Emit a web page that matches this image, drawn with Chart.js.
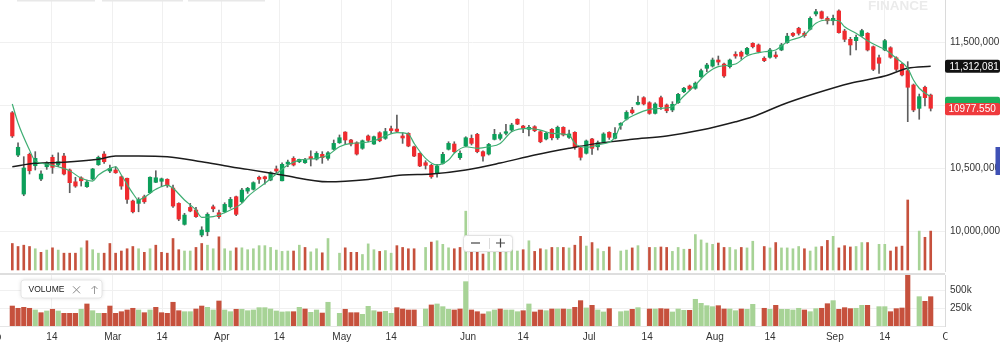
<!DOCTYPE html>
<html><head><meta charset="utf-8">
<script src="https://cdn.jsdelivr.net/npm/chart.js@4.4.1/dist/chart.umd.min.js"></script>
<style>
html,body{margin:0;padding:0;background:#fff;overflow:hidden;}
#wrap{position:relative;width:1000px;height:351px;background:#fff;}
canvas{position:absolute;left:0;}
#c1{top:0;width:1000px;height:272px;}
#c2{top:272px;width:1000px;height:79px;}
</style></head><body>
<div id="wrap"><canvas id="c1" width="1000" height="272"></canvas><canvas id="c2" width="1000" height="79"></canvas></div>
<script>
// ---------- DATA (trading-day index 0..160) ----------
const opens = [10942000,10605000,10294000,10611000,10520000,10414000,10512000,10587000,10526000,10597000,
10486000,10392000,10424000,10353000,10414000,10528000,10613000,10478000,10486000,10432000,
10420000,10239000,10220000,10273000,10305000,10388000,10396000,10412000,10342000,10220000,
10053000,10188000,10167000,9968000,9994000,10193000,10145000,10153000,10193000,10273000,
10233000,10318000,10332000,10428000,10432000,10406000,10494000,10400000,10533000,10579000,
10552000,10544000,10592000,10573000,10611000,10579000,10651000,10703000,10788000,10725000,
10703000,10659000,10757000,10693000,10783000,10738000,10815000,10812000,10757000,10778000,
10671000,10619000,10544000,10523000,10464000,10539000,10651000,10693000,10584000,10677000,
10738000,10770000,10632000,10613000,10730000,10738000,10778000,10804000,10890000,10836000,
10810000,10831000,10791000,10733000,10810000,10743000,10826000,10746000,10786000,10663000,
10619000,10733000,10671000,10711000,10786000,10738000,10842000,10892000,10964000,11009000,
11062000,11022000,10937000,11062000,11004000,10964000,11022000,11110000,11155000,11137000,
11229000,11296000,11314000,11362000,11330000,11309000,11408000,11424000,11410000,11495000,
11482000,11376000,11384000,11402000,11442000,11500000,11575000,11615000,11575000,11607000,
11729000,11747000,11694000,11675000,11753000,11593000,11527000,11516000,11556000,11575000,
11468000,11380000,11442000,11460000,11380000,11328000,11277000,11163000,10977000,11145000,
11083000];
const highs = [10952000,10703000,10592000,10621000,10632000,10480000,10552000,10605000,10623000,10619000,
10494000,10428000,10432000,10406000,10499000,10597000,10632000,10526000,10512000,10438000,
10422000,10247000,10265000,10286000,10432000,10480000,10422000,10416000,10366000,10225000,
10141000,10220000,10188000,10034000,10145000,10207000,10167000,10225000,10268000,10279000,
10340000,10348000,10392000,10438000,10438000,10472000,10518000,10544000,10565000,10592000,
10573000,10579000,10639000,10632000,10632000,10632000,10725000,10765000,10791000,10730000,
10711000,10725000,10765000,10757000,10791000,10818000,10836000,10924000,10783000,10783000,
10677000,10623000,10560000,10531000,10531000,10627000,10711000,10711000,10639000,10751000,
10765000,10778000,10639000,10698000,10810000,10783000,10850000,10858000,10894000,10842000,
10842000,10839000,10799000,10786000,10815000,10836000,10831000,10804000,10791000,10677000,
10725000,10738000,10717000,10783000,10791000,10823000,10863000,10958000,10985000,11075000,
11070000,11030000,11022000,11075000,11012000,11030000,11097000,11145000,11163000,11187000,
11290000,11336000,11378000,11394000,11338000,11370000,11428000,11434000,11463000,11500000,
11490000,11388000,11455000,11428000,11495000,11575000,11580000,11623000,11588000,11707000,
11766000,11753000,11707000,11721000,11761000,11607000,11543000,11561000,11607000,11580000,
11474000,11402000,11527000,11468000,11388000,11336000,11349000,11171000,11091000,11155000,
11091000];
const lows = [10745000,10592000,10281000,10454000,10486000,10400000,10491000,10459000,10512000,10446000,
10305000,10348000,10358000,10348000,10406000,10523000,10539000,10464000,10459000,10332000,
10220000,10145000,10153000,10220000,10300000,10385000,10353000,10348000,10188000,10082000,
10047000,10153000,10109000,9954000,9962000,10153000,10101000,10145000,10181000,10122000,
10225000,10300000,10326000,10380000,10374000,10400000,10464000,10398000,10512000,10518000,
10544000,10539000,10518000,10565000,10539000,10565000,10645000,10698000,10693000,10677000,
10605000,10651000,10711000,10690000,10711000,10730000,10778000,10783000,10698000,10671000,
10592000,10512000,10494000,10420000,10428000,10533000,10645000,10623000,10571000,10671000,
10685000,10623000,10557000,10605000,10725000,10725000,10765000,10791000,10847000,10783000,
10757000,10791000,10703000,10725000,10725000,10730000,10757000,10738000,10651000,10565000,
10613000,10611000,10645000,10703000,10730000,10733000,10810000,10884000,10932000,11004000,
11004000,10930000,10932000,10969000,10942000,10950000,11017000,11102000,11118000,11129000,
11224000,11269000,11306000,11322000,11224000,11298000,11376000,11368000,11402000,11458000,
11420000,11349000,11376000,11376000,11436000,11495000,11548000,11561000,11543000,11601000,
11713000,11689000,11649000,11641000,11575000,11508000,11402000,11442000,11548000,11434000,
11277000,11256000,11436000,11376000,11277000,11235000,10871000,10950000,10890000,10996000,
10956000];
const closes = [10757000,10667000,10502000,10480000,10579000,10454000,10544000,10507000,10552000,10454000,
10385000,10358000,10400000,10390000,10494000,10587000,10552000,10499000,10464000,10358000,
10252000,10153000,10252000,10233000,10428000,10424000,10416000,10361000,10199000,10095000,
10127000,10159000,10114000,10008000,10133000,10177000,10114000,10212000,10252000,10133000,
10326000,10340000,10385000,10412000,10416000,10464000,10478000,10531000,10549000,10526000,
10571000,10566000,10576000,10619000,10584000,10623000,10698000,10743000,10725000,10693000,
10613000,10719000,10722000,10751000,10719000,10792000,10800000,10794000,10741000,10677000,
10597000,10518000,10523000,10432000,10518000,10611000,10698000,10632000,10619000,10743000,
10698000,10632000,10597000,10690000,10770000,10768000,10791000,10844000,10852000,10818000,
10826000,10799000,10711000,10778000,10743000,10826000,10765000,10773000,10667000,10587000,
10717000,10659000,10703000,10773000,10746000,10778000,10858000,10945000,10942000,11025000,
11012000,10937000,11012000,10990000,10958000,11009000,11089000,11137000,11131000,11177000,
11277000,11322000,11362000,11346000,11235000,11362000,11394000,11392000,11455000,11468000,
11428000,11357000,11442000,11388000,11482000,11552000,11558000,11575000,11556000,11694000,
11747000,11694000,11675000,11694000,11580000,11527000,11482000,11543000,11596000,11442000,
11288000,11336000,11516000,11384000,11288000,11243000,11145000,10964000,11070000,11062000,
10977550];
const volumes = [282000,250000,264000,250000,226000,188000,212000,236000,212000,179000,
179000,179000,236000,311000,216000,179000,179000,282000,179000,202000,
226000,250000,226000,188000,226000,264000,188000,179000,335000,216000,
202000,202000,240000,282000,264000,226000,353000,226000,202000,236000,
236000,216000,226000,259000,259000,240000,212000,198000,202000,202000,
264000,240000,193000,226000,183000,335000,null,179000,236000,188000,
188000,165000,278000,216000,198000,207000,179000,259000,240000,226000,
226000,null,240000,297000,311000,273000,236000,226000,240000,626000,
226000,202000,170000,202000,226000,240000,226000,226000,202000,216000,
311000,198000,226000,216000,240000,240000,240000,235000,264000,358000,
255000,292000,226000,198000,245000,null,202000,212000,235000,259000,
null,240000,240000,245000,240000,198000,240000,221000,221000,377000,
320000,287000,273000,287000,240000,240000,216000,240000,235000,306000,
null,250000,235000,292000,235000,235000,226000,250000,226000,202000,
245000,250000,315000,358000,235000,259000,245000,250000,292000,292000,
null,273000,273000,202000,245000,254000,745000,null,414000,348000,
414000];
// short moving average (green), read at selected days
const maShortDay = [0,1,3,4,6,8,10,12,14,15,17,18,19,21,22,23,25,27,28,30,32,33,35,36,38,40,41,44,46,48,50,53,55,57,59,61,63,65,67,69,70,72,74,76,77,79,81,83,85,87,90,92,94,97,98,100,102,105,106,109,111,113,115,117,119,121,123,126,128,131,133,135,138,140,142,144,145,147,149,151,152,154,156,157,158,160];
const maShortVal = [11012000,10860000,10645000,10557000,10533000,10512000,10480000,10420000,10398000,10446000,10499000,10512000,10446000,10300000,10247000,10268000,10332000,10366000,10340000,10247000,10167000,10109000,10114000,10127000,10167000,10220000,10273000,10380000,10454000,10526000,10565000,10579000,10605000,10671000,10698000,10703000,10719000,10757000,10783000,10773000,10698000,10579000,10526000,10565000,10619000,10671000,10659000,10671000,10698000,10791000,10818000,10804000,10778000,10765000,10698000,10667000,10685000,10746000,10844000,10937000,10969000,10977000,10990000,11075000,11163000,11256000,11309000,11330000,11394000,11428000,11442000,11508000,11561000,11655000,11681000,11675000,11627000,11575000,11516000,11468000,11447000,11376000,11296000,11203000,11137000,11070000];
// long moving average (black)
const maLongDay = [0,4,9,15,18,22,27,33,38,41,47,55,62,68,73,79,85,91,97,102,108,114,120,126,129,134,140,146,152,156,160];
const maLongVal = [10512000,10539000,10547000,10571000,10597000,10597000,10592000,10552000,10512000,10491000,10446000,10392000,10411000,10446000,10454000,10486000,10541000,10605000,10659000,10698000,10730000,10757000,10804000,10870000,10910000,11004000,11097000,11177000,11235000,11296000,11312081];
// axis ticks
const tickPos = [-3.4,6.9,17.5,26.1,36.5,46.5,57.4,66.0,79.4,89.0,100.5,110.6,122.4,132.0,143.3,152.0,163.4];
const tickLabels = ['Feb','14','Mar','14','Apr','14','May','14','Jun','14','Jul','14','Aug','14','Sep','14','Oct'];
const priceTicks = [10000000,10500000,11000000,11500000];
const volTicks = [250000,500000];

// ---------- view ranges ----------
const xMin = -2.143, xMax = 162.49;
const priceMin = 9673400, priceMax = 11840200;
const volMax = 720000;
const ovMin = -21300, ovMax = 2873000;

const RED = '#ef2b2f', GREEN = '#0c9f5a', WICK = '#5e5e5e';
const VRED = '#c6513d', VGREEN = '#a7d396';
const FONT = '"Liberation Sans", Arial, Helvetica, sans-serif';
Chart.defaults.font.family = FONT;
Chart.defaults.color = '#333';

const n = closes.length;
const idx = closes.map((_, i) => i);
const bodyData = idx.map(i => ({x: i, y: [opens[i], closes[i]]}));
const wickData = idx.map(i => ({x: i, y: [lows[i], highs[i]]}));
const bodyColors = idx.map(i => closes[i] >= opens[i] ? GREEN : RED);
const volData = idx.map(i => ({x: i, y: volumes[i]}));
const volColors = idx.map(i => (i === 0 ? closes[0] >= opens[0] : closes[i] >= closes[i - 1]) ? VGREEN : VRED);
const maShortData = maShortDay.map((d, k) => ({x: d, y: maShortVal[k]}));
const maLongData = maLongDay.map((d, k) => ({x: d, y: maLongVal[k]}));
const gridTicks = tickPos.filter(v => v >= xMin && v <= xMax);
const fmt = v => Math.round(v).toLocaleString('en-US');

function rr(ctx, x, y, w, h, r) {
  ctx.beginPath();
  if (ctx.roundRect) ctx.roundRect(x, y, w, h, r); else ctx.rect(x, y, w, h);
}

const deco1 = {
  id: 'deco1',
  afterDraw(chart) {
    const ctx = chart.ctx, ys = chart.scales.y;
    ctx.save();
    // faint toolbar edges at top
    ctx.strokeStyle = '#e8e8e8'; ctx.lineWidth = 1.5;
    [[17, 95], [102, 183], [188, 265]].forEach(([a, b]) => { ctx.beginPath(); ctx.moveTo(a, 0.75); ctx.lineTo(b, 0.75); ctx.stroke(); });
    // watermark
    ctx.font = 'bold 13.5px ' + FONT; ctx.fillStyle = '#ebebeb'; ctx.textAlign = 'left'; ctx.textBaseline = 'alphabetic';
    ctx.fillText('FINANCE', 868, 9.5);
    // zoom control
    ctx.shadowColor = 'rgba(0,0,0,0.12)'; ctx.shadowBlur = 3;
    rr(ctx, 463.5, 235.5, 49, 16, 3); ctx.fillStyle = '#fff'; ctx.fill();
    ctx.shadowBlur = 0; ctx.shadowColor = 'transparent';
    ctx.strokeStyle = '#e2e2e2'; ctx.lineWidth = 1; ctx.stroke();
    ctx.strokeStyle = '#444'; ctx.lineWidth = 1.2;
    ctx.beginPath(); ctx.moveTo(471, 243); ctx.lineTo(480, 243); ctx.stroke();
    ctx.beginPath(); ctx.moveTo(496, 243); ctx.lineTo(505, 243); ctx.moveTo(500.5, 238.5); ctx.lineTo(500.5, 247.5); ctx.stroke();
    ctx.strokeStyle = '#dcdcdc'; ctx.lineWidth = 1;
    ctx.beginPath(); ctx.moveTo(489.5, 238); ctx.lineTo(489.5, 249); ctx.stroke();
    // right-side value labels
    ctx.font = '10px ' + FONT; ctx.textBaseline = 'middle'; ctx.textAlign = 'left';
    const yL = ys.getPixelForValue(maLongVal[maLongVal.length - 1]);
    rr(ctx, 945, yL - 6.5, 55, 13, 2); ctx.fillStyle = '#121212'; ctx.fill();
    ctx.fillStyle = '#fff'; ctx.fillText(fmt(maLongVal[maLongVal.length - 1]), 949.5, yL + 0.5);
    const yS = ys.getPixelForValue(maShortVal[maShortVal.length - 1]);
    rr(ctx, 945, yS, 55, 12.5, 2); ctx.fillStyle = '#1fae5b'; ctx.fill();
    const last = closes[n - 1];
    const yC = ys.getPixelForValue(last);
    rr(ctx, 945, yC - 5.3, 55, 12.3, 2); ctx.fillStyle = '#ef3a3d'; ctx.fill();
    ctx.fillStyle = '#fff'; ctx.fillText((last / 1000).toFixed(3), 948.5, yC + 0.9);
    // blue side tab
    ctx.fillStyle = '#3f51b5'; ctx.fillRect(995.5, 147, 4.5, 28);
    ctx.restore();
  }
};

const deco2 = {
  id: 'deco2',
  afterDraw(chart) {
    const ctx = chart.ctx, xs = chart.scales.x;
    ctx.save();
    // pane separator
    ctx.fillStyle = '#dedede'; ctx.fillRect(0, 1, 945, 2);
    // VOLUME legend
    ctx.shadowColor = 'rgba(0,0,0,0.14)'; ctx.shadowBlur = 4;
    rr(ctx, 21, 8, 81, 18, 3); ctx.fillStyle = '#fff'; ctx.fill();
    ctx.shadowBlur = 0; ctx.shadowColor = 'transparent';
    ctx.strokeStyle = '#e6e6e6'; ctx.lineWidth = 1; ctx.stroke();
    ctx.font = '8.5px ' + FONT; ctx.fillStyle = '#222'; ctx.textAlign = 'left'; ctx.textBaseline = 'middle';
    ctx.fillText('VOLUME', 28.5, 17.5);
    ctx.strokeStyle = '#8a8a8a'; ctx.lineWidth = 1;
    ctx.beginPath(); ctx.moveTo(73, 14.3); ctx.lineTo(80, 21.3); ctx.moveTo(80, 14.3); ctx.lineTo(73, 21.3); ctx.stroke();
    ctx.strokeStyle = '#9a9a9a';
    ctx.beginPath(); ctx.moveTo(94.5, 14); ctx.lineTo(94.5, 22); ctx.moveTo(91.5, 17); ctx.lineTo(94.5, 14); ctx.lineTo(97.5, 17); ctx.stroke();
    // x tick labels (clipped at the plot edge like the reference)
    ctx.beginPath(); ctx.rect(0, 27, 947.5, 52); ctx.clip();
    ctx.font = '10px ' + FONT; ctx.fillStyle = '#333'; ctx.textAlign = 'center'; ctx.textBaseline = 'middle';
    tickPos.forEach((p, k) => ctx.fillText(tickLabels[k], xs.getPixelForValue(p), 65.5));
    ctx.restore();
  }
};

const xCommon = {
  type: 'linear', min: xMin, max: xMax, offset: false,
  grid: {color: '#f0f0f0', drawTicks: false, offset: false},
  ticks: {display: false},
  afterBuildTicks: s => { s.ticks = gridTicks.map(v => ({value: v})); }
};

new Chart(document.getElementById('c1'), {
  type: 'bar',
  data: {datasets: [
    {type: 'line', data: maShortData, borderColor: '#3fae73', borderWidth: 1.2, pointRadius: 0, cubicInterpolationMode: 'monotone', order: 0, yAxisID: 'y'},
    {type: 'line', data: maLongData, borderColor: '#1c1c1c', borderWidth: 1.5, pointRadius: 0, cubicInterpolationMode: 'monotone', order: 0, yAxisID: 'y'},
    {data: bodyData, backgroundColor: bodyColors, barThickness: 3.6, minBarLength: 1, grouped: false, order: 1, yAxisID: 'y'},
    {data: wickData, backgroundColor: WICK, barThickness: 1, grouped: false, order: 2, yAxisID: 'y'},
    {data: volData, backgroundColor: volColors, barThickness: 2, grouped: false, order: 3, yAxisID: 'yv'}
  ]},
  options: {
    responsive: false, animation: false, events: [],
    layout: {padding: 0},
    plugins: {legend: {display: false}, tooltip: {enabled: false}},
    scales: {
      x: Object.assign({}, xCommon, {border: {display: false},
        afterFit: s => { s.height = 0; s.paddingLeft = 0; s.paddingRight = 0; }}),
      y: {position: 'right', min: priceMin, max: priceMax,
        grid: {color: '#f0f0f0', drawTicks: false},
        border: {display: true, color: '#dadada'},
        ticks: {padding: 5, autoSkip: false, font: {size: 10}, color: '#333', callback: v => fmt(v)},
        afterBuildTicks: s => { s.ticks = priceTicks.map(v => ({value: v})); },
        afterFit: s => { s.width = 55; s.paddingTop = 0; s.paddingBottom = 0; }},
      yv: {display: false, min: ovMin, max: ovMax}
    }
  },
  plugins: [deco1]
});

new Chart(document.getElementById('c2'), {
  type: 'bar',
  data: {datasets: [
    {data: volData, backgroundColor: volColors, barThickness: 4.5, grouped: false}
  ]},
  options: {
    responsive: false, animation: false, events: [],
    layout: {padding: {top: 3, left: 0, right: 0, bottom: 0}},
    plugins: {legend: {display: false}, tooltip: {enabled: false}},
    scales: {
      x: Object.assign({}, xCommon, {border: {display: true, color: '#e6e6e6'},
        afterFit: s => { s.height = 25; s.paddingLeft = 0; s.paddingRight = 0; }}),
      y: {position: 'right', min: 0, max: volMax,
        grid: {color: '#f0f0f0', drawTicks: false},
        border: {display: true, color: '#dadada'},
        ticks: {padding: 5, autoSkip: false, font: {size: 10}, color: '#333', callback: v => (v / 1000) + 'k'},
        afterBuildTicks: s => { s.ticks = volTicks.map(v => ({value: v})); },
        afterFit: s => { s.width = 55; s.paddingTop = 0; s.paddingBottom = 0; }}
    }
  },
  plugins: [deco2]
});
</script>
</body></html>
